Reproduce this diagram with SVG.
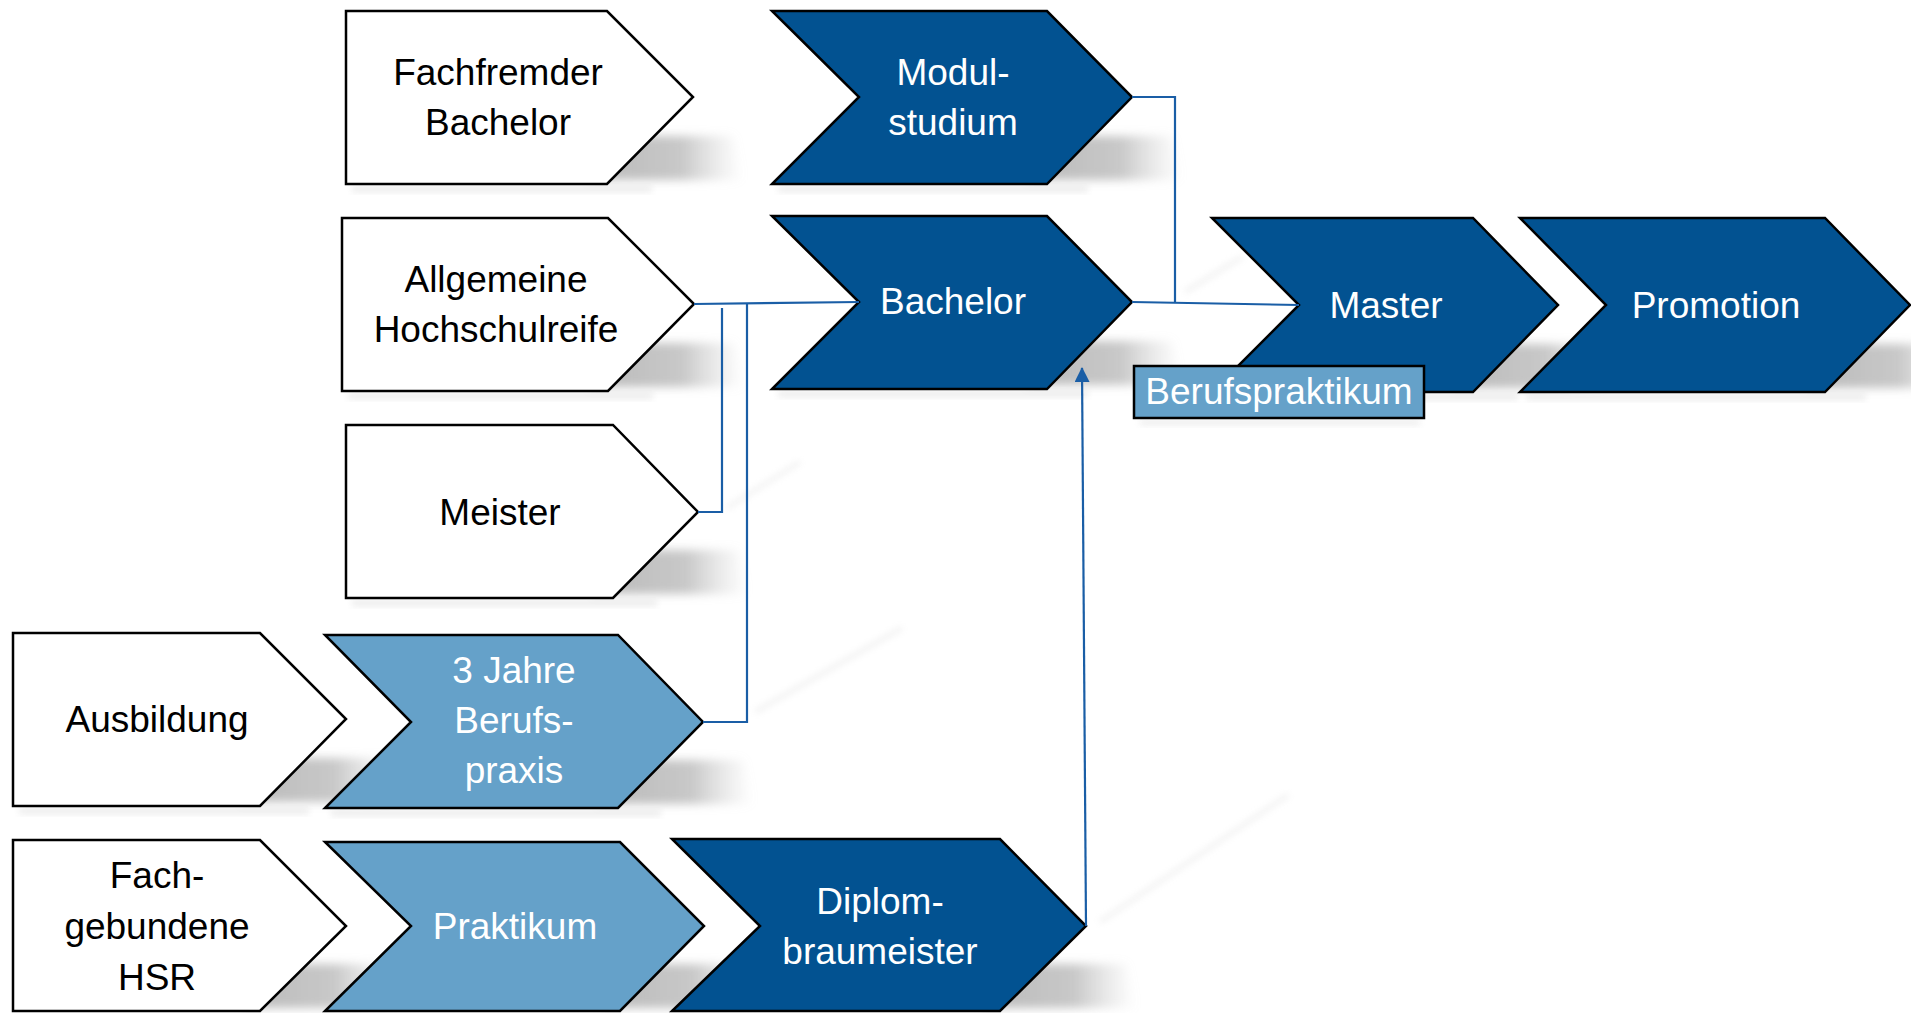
<svg xmlns="http://www.w3.org/2000/svg" width="1911" height="1013" viewBox="0 0 1911 1013">
<defs>
<style>
.w{fill:#ffffff;stroke:#000;stroke-width:2.5;stroke-linejoin:miter}
.d{fill:#025291;stroke:#000;stroke-width:2.5}
.l{fill:#65a1c9;stroke:#000;stroke-width:2.5}
.tb{font-family:"Liberation Sans",Arial,sans-serif;font-size:37px;fill:#000;text-anchor:middle}
.tw{font-family:"Liberation Sans",Arial,sans-serif;font-size:37px;fill:#fff;text-anchor:middle}
.c{fill:none;stroke:#1a5ea6;stroke-width:2.2}
.sh{fill:url(#sg);filter:url(#blur)}
.sb{fill:#d4d4d4;opacity:0.45;filter:url(#blur2)}
.st{stroke:#d8d8d8;stroke-width:5;opacity:0.3;filter:url(#blur2);fill:none}
</style>
<linearGradient id="sg" x1="0" y1="0" x2="1" y2="0">
<stop offset="0" stop-color="#9c9c9c" stop-opacity="0.7"/>
<stop offset="0.6" stop-color="#a4a4a4" stop-opacity="0.6"/>
<stop offset="1" stop-color="#c0c0c0" stop-opacity="0"/>
</linearGradient>
<filter id="blur" x="-50%" y="-50%" width="200%" height="200%"><feGaussianBlur stdDeviation="5"/></filter>
<filter id="blur2" x="-50%" y="-50%" width="200%" height="200%"><feGaussianBlur stdDeviation="3"/></filter>
<marker id="arr" markerWidth="16" markerHeight="16" refX="14" refY="7.5" orient="auto" markerUnits="userSpaceOnUse">
<path d="M0,0 L15,7.5 L0,15 Z" fill="#1a5ea6"/>
</marker>
</defs>
<rect width="1911" height="1013" fill="#fff"/>
<g id="shadows">
<path class="sh" d="M590,136 L733,136 L743,180 L590,180 Z"/><rect class="sb" x="352" y="186" width="300" height="6"/>
<path class="sh" d="M1029,136 L1172,136 L1182,180 L1029,180 Z"/><rect class="sb" x="778" y="186" width="310" height="6"/>
<path class="sh" d="M591,343 L734,343 L744,387 L591,387 Z"/><rect class="sb" x="348" y="393" width="305" height="6"/>
<path class="sh" d="M1029,341 L1172,341 L1182,385 L1029,385 Z"/><rect class="sb" x="778" y="391" width="310" height="6"/>
<path class="sh" d="M595,550 L738,550 L748,594 L595,594 Z"/><rect class="sb" x="352" y="600" width="305" height="6"/>
<path class="sh" d="M243,758 L386,758 L396,802 L243,802 Z"/><rect class="sb" x="19" y="808" width="290" height="6"/>
<path class="sh" d="M600,760 L743,760 L753,804 L600,804 Z"/><rect class="sb" x="331" y="810" width="330" height="6"/>
<path class="sh" d="M243,964 L386,964 L396,1008 L243,1008 Z"/>
<path class="sh" d="M602,964 L745,964 L755,1008 L602,1008 Z"/>
<path class="sh" d="M983,964 L1126,964 L1136,1008 L983,1008 Z"/>
<path class="sh" d="M1455,344 L1598,344 L1608,388 L1455,388 Z"/><rect class="sb" x="1218" y="394" width="300" height="6"/>
<path class="sh" d="M1807,344 L1950,344 L1960,388 L1807,388 Z"/><rect class="sb" x="1526" y="394" width="340" height="6"/>
<rect class="sb" x="1140" y="420" width="280" height="5"/>
<path class="st" d="M800,462 L727,508"/>
<path class="st" d="M902,628 L755,712"/>
<path class="st" d="M1288,795 L1100,922"/>
<path class="st" d="M1242,257 L1185,292"/>
</g>
<g id="fachfremder"><path class="w" d="M346,11 L607,11 L693,97 L607,184 L346,184 Z"/><text class="tb" x="498" y="85">Fachfremder</text><text class="tb" x="498" y="135">Bachelor</text></g>
<g id="modulstudium"><path class="d" d="M772,11 L1047,11 L1132,97 L1047,184 L772,184 L859,97 Z"/><text class="tw" x="953" y="85">Modul-</text><text class="tw" x="953" y="135">studium</text></g>
<g id="allgemeine"><path class="w" d="M342,218 L608,218 L694,304 L608,391 L342,391 Z"/><text class="tb" x="496" y="292">Allgemeine</text><text class="tb" x="496" y="342">Hochschulreife</text></g>
<g id="bachelor"><path class="d" d="M772,216 L1047,216 L1132,302 L1047,389 L772,389 L859,302 Z"/><text class="tw" x="953" y="314">Bachelor</text></g>
<g id="meister"><path class="w" d="M346,425 L613,425 L698,512 L613,598 L346,598 Z"/><text class="tb" x="500" y="525">Meister</text></g>
<g id="ausbildung"><path class="w" d="M13,633 L260,633 L346,719 L260,806 L13,806 Z"/><text class="tb" x="157" y="732">Ausbildung</text></g>
<g id="berufspraxis"><path class="l" d="M325,635 L618,635 L703,722 L618,808 L325,808 L411,722 Z"/><text class="tw" x="514" y="683">3 Jahre</text><text class="tw" x="514" y="733">Berufs-</text><text class="tw" x="514" y="783">praxis</text></g>
<g id="fachgebundene"><path class="w" d="M13,840 L260,840 L346,926 L260,1011 L13,1011 Z"/><text class="tb" x="157" y="888">Fach-</text><text class="tb" x="157" y="939">gebundene</text><text class="tb" x="157" y="990">HSR</text></g>
<g id="praktikum"><path class="l" d="M325,842 L620,842 L704,926 L620,1011 L325,1011 L411,926 Z"/><text class="tw" x="515" y="939">Praktikum</text></g>
<g id="diplom"><path class="d" d="M672,839 L1000,839 L1086,926 L1000,1011 L672,1011 L760,926 Z"/><text class="tw" x="880" y="914">Diplom-</text><text class="tw" x="880" y="964">braumeister</text></g>
<g id="master"><path class="d" d="M1212,218 L1473,218 L1558,305 L1473,392 L1212,392 L1299,305 Z"/><text class="tw" x="1386" y="318">Master</text></g>
<g id="promotion"><path class="d" d="M1520,218 L1825,218 L1910,305 L1825,392 L1520,392 L1606,305 Z"/><text class="tw" x="1716" y="318">Promotion</text></g>
<g id="connectors">
<path class="c" d="M694,304 L859,302"/>
<path class="c" d="M698,512 L722,512 L722,308"/>
<path class="c" d="M703,722 L747,722 L747,304"/>
<path class="c" d="M1132,97 L1175,97 L1175,302"/>
<path class="c" d="M1132,302 L1299,305"/>
<path class="c" d="M1086,926 L1082,368" marker-end="url(#arr)"/>
</g>
<g id="berufspraktikum"><rect x="1134" y="366" width="290" height="52" fill="#65a1c9" stroke="#000" stroke-width="2.5"/><text class="tw" x="1279" y="404">Berufspraktikum</text></g>
</svg>
